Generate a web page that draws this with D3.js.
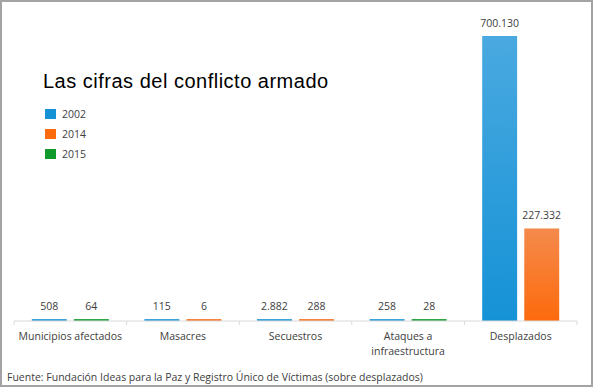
<!DOCTYPE html>
<html>
<head>
<meta charset="utf-8">
<script src="https://cdn.jsdelivr.net/npm/d3@7"></script>
<style>
    body { margin: 0; background: #fff; }
    svg { display: block; }
    text { font-family: "Open Sans", "Noto Sans", sans-serif; fill: #404040; }
</style>
</head>
<body>
<div id="chart"></div>
<script>
'use strict';

var categories = ["Municipios afectados", "Masacres", "Secuestros", "Ataques a|infraestructura", "Desplazados"];
var years = ["2002", "2014", "2015"];
var firstYears = ["2002", "2002", "2002", "2002", "2002"];
var firstValues = [508, 115, 2882, 258, 700130];
var secondYears = ["2015", "2014", "2014", "2015", "2014"];
var secondValues = [64, 6, 288, 28, 227332];
var yearColors = ["#1592d6", "#fd6a0c", "#119a2c"];
var yearColorsLight = ["#4aa9e0", "#f48a4c", "#38ad4f"];

var width = 593, height = 387,
    plotLeft = 14, plotRight = 577, baseline = 321, plotTop = 36;

var svg = d3.select("#chart").append("svg")
    .attr("width", width)
    .attr("height", height);

var locale = d3.formatLocale({decimal: ",", thousands: ".", grouping: [3], currency: ["$", ""]});
var fmt = locale.format(",d");

var color = d3.scaleOrdinal().domain(years).range(yearColors);
var colorLight = d3.scaleOrdinal().domain(years).range(yearColorsLight);

// gradients, lighter at top
var defs = svg.append("defs");
years.forEach(function(yr) {
    var g = defs.append("linearGradient")
        .attr("id", "grad" + yr)
        .attr("x1", 0).attr("y1", 0).attr("x2", 0).attr("y2", 1);
    g.append("stop").attr("offset", "0%").attr("stop-color", colorLight(yr));
    g.append("stop").attr("offset", "100%").attr("stop-color", color(yr));
});

// frame
svg.append("rect")
    .attr("x", 1).attr("y", 1)
    .attr("width", width - 2).attr("height", height - 2)
    .style("fill", "none")
    .style("stroke", "#a3a3a3")
    .style("stroke-width", 2);

var x0 = d3.scaleBand()
    .domain(categories)
    .range([plotLeft, plotRight]);

var bw = x0.bandwidth();
var x1 = d3.scaleBand()
    .domain([0, 1])
    .range([17.8, bw - 17.8])
    .paddingInner(0.17);

var y = d3.scaleLinear()
    .domain([0, d3.max(firstValues.concat(secondValues))])
    .range([baseline, plotTop]);

var bars = [];
categories.forEach(function(c, i) {
    bars.push({cat: c, slot: 0, year: firstYears[i], value: firstValues[i]});
    bars.push({cat: c, slot: 1, year: secondYears[i], value: secondValues[i]});
});

// tiny values still get a visible sliver, like the original
function barTop(d) {
    return Math.min(y(d.value), baseline - 2);
}

svg.append("g").selectAll("rect")
    .data(bars)
    .enter().append("rect")
    .attr("x", function(d) { return x0(d.cat) + x1(d.slot); })
    .attr("y", barTop)
    .attr("width", x1.bandwidth())
    .attr("height", function(d) { return baseline - barTop(d); })
    .style("fill", function(d) { return "url(#grad" + d.year + ")"; });

svg.append("g").selectAll("text")
    .data(bars)
    .enter().append("text")
    .attr("x", function(d) { return x0(d.cat) + x1(d.slot) + x1.bandwidth() / 2; })
    .attr("y", function(d) { return barTop(d) - 9; })
    .style("text-anchor", "middle")
    .style("font-size", "10.5px")
    .text(function(d) { return fmt(d.value); });

// axis
var axis = svg.append("g")
    .attr("transform", "translate(0," + baseline + ")");
axis.append("line")
    .attr("x1", plotLeft).attr("x2", plotRight)
    .style("stroke", "#d9d9d9");
axis.selectAll("line.tick")
    .data(categories.concat([null]))
    .enter().append("line")
    .attr("class", "tick")
    .attr("x1", function(d) { return d ? x0(d) : plotRight; })
    .attr("x2", function(d) { return d ? x0(d) : plotRight; })
    .attr("y1", 0).attr("y2", 4)
    .style("stroke", "#d9d9d9");

var catLabels = axis.selectAll("text.cat")
    .data(categories)
    .enter().append("text")
    .attr("class", "cat")
    .attr("x", function(d) { return x0(d) + bw / 2; })
    .attr("y", 19)
    .style("text-anchor", "middle")
    .style("font-size", "10.5px");
catLabels.each(function(d) {
    var lines = d.split("|"), t = d3.select(this);
    lines.forEach(function(l, k) {
        t.append("tspan")
            .attr("x", x0(d) + bw / 2)
            .attr("dy", k ? 15 : 0)
            .text(l);
    });
});

// title
svg.append("text")
    .attr("x", 43).attr("y", 88)
    .style("font-family", "'Liberation Sans', Arial, sans-serif")
    .style("font-size", "20px")
    .style("letter-spacing", "0.5px")
    .style("fill", "#000")
    .text("Las cifras del conflicto armado");

// legend
var legend = svg.append("g").selectAll("g")
    .data(years)
    .enter().append("g")
    .attr("transform", function(d, i) { return "translate(45," + (109 + i * 20) + ")"; });
legend.append("rect")
    .attr("width", 11).attr("height", 10)
    .style("fill", function(d) { return color(d); });
legend.append("text")
    .attr("x", 17).attr("y", 9)
    .style("font-size", "10.5px")
    .text(function(d) { return d; });

// source
svg.append("text")
    .attr("x", 7).attr("y", 381)
    .style("font-size", "10.5px")
    .text("Fuente: Fundación Ideas para la Paz y Registro Único de Víctimas (sobre desplazados)");
</script>
</body>
</html>
